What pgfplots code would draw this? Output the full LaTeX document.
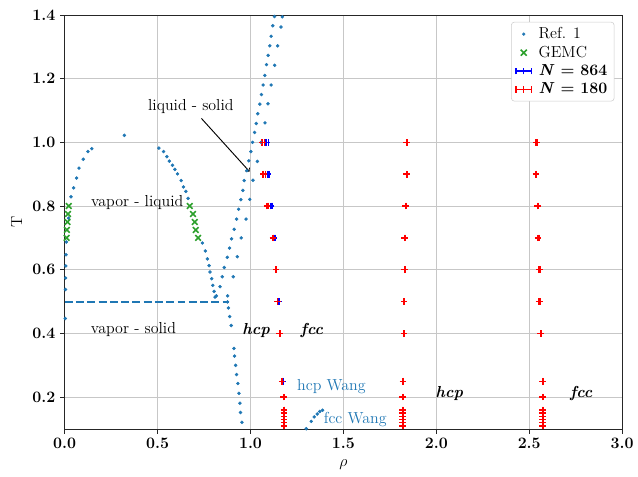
\documentclass[border=0pt]{standalone}
\usepackage{pgfplots}
\pgfplotsset{compat=1.18}
\definecolor{tabblue}{HTML}{1F77B4}
\definecolor{tabgreen}{HTML}{2CA02C}

\pgfplotsset{
    dotleg/.style={legend image code/.code={\fill[tabblue] (0.3cm,0cm) circle (1pt);}},
    gemcleg/.style={legend image code/.code={\draw[tabgreen, line width=1.2pt] (0.22cm,-0.08cm) -- (0.38cm,0.08cm) (0.22cm,0.08cm) -- (0.38cm,-0.08cm);}},
    bigleg/.style={legend image code/.code={\draw[blue, line width=1.1pt] (0.1cm,0cm) -- (0.5cm,0cm) (0.1cm,-2.5pt) -- (0.1cm,2.5pt) (0.5cm,-2.5pt) -- (0.5cm,2.5pt) (0.3cm,-2.5pt) -- (0.3cm,2.5pt);}},
    smallleg/.style={legend image code/.code={\draw[red, line width=1.1pt] (0.1cm,0cm) -- (0.5cm,0cm) (0.1cm,-2.5pt) -- (0.1cm,2.5pt) (0.5cm,-2.5pt) -- (0.5cm,2.5pt) (0.3cm,-2.5pt) -- (0.3cm,2.5pt);}},
}

% Ref. 1 coexistence data (rho, T)
\pgfplotstableread{
x y
0.146 0.980
0.125 0.971
0.100 0.947
0.077 0.919
0.064 0.888
0.048 0.857
0.034 0.829
0.021 0.762
0.009 0.687
0.007 0.647
0.006 0.612
0.005 0.574
0.004 0.538
0.003 0.447
0.321 1.022
0.507 0.982
0.532 0.971
0.550 0.955
0.563 0.941
0.580 0.928
0.593 0.915
0.607 0.901
0.627 0.880
0.639 0.860
0.652 0.846
0.664 0.824
0.741 0.684
0.757 0.659
0.768 0.634
0.777 0.613
0.782 0.593
0.791 0.572
0.797 0.551
0.804 0.532
0.809 0.514
1.129 1.395
1.120 1.366
1.111 1.333
1.104 1.303
1.095 1.273
1.086 1.244
1.077 1.210
1.068 1.180
1.059 1.150
1.050 1.120
1.039 1.090
1.031 1.059
1.022 1.031
1.011 1.000
1.002 0.971
0.991 0.942
0.980 0.911
0.966 0.880
0.959 0.849
0.948 0.820
0.936 0.790
0.925 0.759
0.912 0.727
0.898 0.697
0.887 0.668
0.875 0.639
0.859 0.607
0.848 0.578
0.836 0.547
0.816 0.518
1.171 1.394
1.164 1.362
1.146 1.303
1.130 1.242
1.111 1.180
1.094 1.121
1.078 1.061
1.057 1.000
1.037 0.940
1.013 0.881
0.996 0.821
0.976 0.759
0.950 0.700
0.929 0.641
0.907 0.578
0.877 0.518
0.876 0.499
0.881 0.480
0.888 0.453
0.896 0.425
0.911 0.353
0.914 0.329
0.920 0.300
0.925 0.271
0.932 0.243
0.938 0.212
0.943 0.181
0.946 0.152
0.954 0.121
1.300 0.101
1.327 0.124
1.343 0.138
1.359 0.147
1.373 0.155
1.388 0.159
}\refone

\pgfplotstableread{
x y
0.022 0.800
0.018 0.775
0.015 0.750
0.012 0.725
0.010 0.700
0.673 0.800
0.691 0.775
0.700 0.750
0.705 0.725
0.718 0.700
}\gemc

\pgfplotstableread{
x y ex
1.087 1.00 0.006
1.094 0.90 0.006
1.111 0.80 0.005
1.127 0.70 0.004
1.152 0.50 0.003
1.172 0.25 0.003
}\nbig

\pgfplotstableread{
x y ex
1.065 1.00 0.008
1.071 0.90 0.008
1.089 0.80 0.006
1.121 0.70 0.004
1.138 0.60 0.003
1.146 0.50 0.003
1.157 0.40 0.003
1.170 0.25 0.003
1.179 0.20 0.002
1.180 0.16 0.002
1.180 0.15 0.002
1.180 0.14 0.002
1.180 0.13 0.002
1.180 0.12 0.002
1.180 0.11 0.002
1.841 1.00 0.003
1.839 0.90 0.003
1.834 0.80 0.003
1.830 0.70 0.003
1.830 0.60 0.003
1.827 0.50 0.003
1.827 0.40 0.003
1.821 0.25 0.002
1.818 0.20 0.002
1.818 0.16 0.002
1.818 0.15 0.002
1.818 0.14 0.002
1.818 0.13 0.002
1.818 0.12 0.002
1.818 0.11 0.002
2.539 1.00 0.004
2.536 0.90 0.004
2.545 0.80 0.004
2.548 0.70 0.004
2.555 0.60 0.004
2.554 0.50 0.004
2.562 0.40 0.004
2.571 0.25 0.002
2.571 0.20 0.002
2.571 0.16 0.002
2.571 0.15 0.002
2.571 0.14 0.002
2.571 0.13 0.002
2.571 0.12 0.002
2.571 0.11 0.002
}\nsmall

\begin{document}
\begin{tikzpicture}
\begin{axis}[
    scale only axis,
    width=420pt, height=312pt,
    xmin=0, xmax=3, ymin=0.1, ymax=1.4,
    xtick={0,0.5,1,1.5,2,2.5,3},
    xticklabels={\textbf{0.0},\textbf{0.5},\textbf{1.0},\textbf{1.5},\textbf{2.0},\textbf{2.5},\textbf{3.0}},
    ytick={0.2,0.4,0.6,0.8,1.0,1.2,1.4},
    yticklabels={\textbf{0.2},\textbf{0.4},\textbf{0.6},\textbf{0.8},\textbf{1.0},\textbf{1.2},\textbf{1.4}},
    xtick pos=bottom, ytick pos=left,
    grid=major,
    major grid style={color=black!22, line width=0.6pt},
    axis line style={color=black!85, line width=0.6pt},
    tick align=outside,
    major tick length=3.5pt,
    tick style={color=black!85, line width=0.6pt},
    tick label style={font=\large\bfseries},
    xlabel={$\rho$},
    ylabel={T},
    label style={font=\large},
    xlabel style={at={(axis description cs:0.5,-0.085)}, anchor=center},
    ylabel style={at={(axis description cs:-0.086,0.5)}, anchor=center},
    legend style={at={(0.986,0.983)}, anchor=north east,
        font=\large, draw=black!20, fill=white, rounded corners=2pt,
        inner xsep=3pt, inner ysep=2pt, column sep=3pt},
    legend cell align=left,
]
\addplot[only marks, mark=*, mark size=1.1pt, color=tabblue, dotleg] table[x=x,y=y] {\refone};
\addlegendentry{Ref. 1}
\addplot[only marks, mark=x, mark size=3pt, line width=1.2pt, color=tabgreen, gemcleg] table[x=x,y=y] {\gemc};
\addlegendentry{GEMC}
\addplot[only marks, mark=+, mark size=2.5pt, line width=1.1pt, color=blue, bigleg,
    error bars/.cd, x dir=both, x explicit]
    table[x=x, y=y, x error=ex] {\nbig};
\addlegendentry{\textbf{\textit{N} = 864}}
\addplot[only marks, mark=+, mark size=2.5pt, line width=1.1pt, color=red, smallleg,
    error bars/.cd, x dir=both, x explicit]
    table[x=x, y=y, x error=ex] {\nsmall};
\addlegendentry{\textbf{\textit{N} = 180}}
\addplot[forget plot, tabblue, line width=1.5pt, dash pattern=on 6pt off 2.5pt]
    coordinates {(0,0.5) (0.884,0.5)};

\node[font=\large] at (axis cs:0.679,1.113) {liquid - solid};
\draw[->, line width=0.7pt] (axis cs:0.736,1.075) -- (axis cs:0.995,0.908);
\node[font=\large] at (axis cs:0.39,0.812) {vapor - liquid};
\node[font=\large] at (axis cs:0.37,0.412) {vapor - solid};
\node[font=\large\bfseries\itshape] at (axis cs:1.03,0.41) {hcp};
\node[font=\large\bfseries\itshape] at (axis cs:1.33,0.41) {fcc};
\node[font=\large\bfseries\itshape] at (axis cs:2.07,0.21) {hcp};
\node[font=\large\bfseries\itshape] at (axis cs:2.78,0.21) {fcc};
\node[font=\large, text=tabblue, anchor=west, inner sep=0pt] at (axis cs:1.25,0.232) {hcp Wang};
\node[font=\large, text=tabblue, anchor=west, inner sep=0pt] at (axis cs:1.393,0.131) {fcc Wang};
\end{axis}
\path[use as bounding box] ([xshift=-48.75pt,yshift=-36pt]current axis.south west)
    rectangle ([xshift=9.75pt,yshift=11.25pt]current axis.north east);
\end{tikzpicture}
\end{document}
